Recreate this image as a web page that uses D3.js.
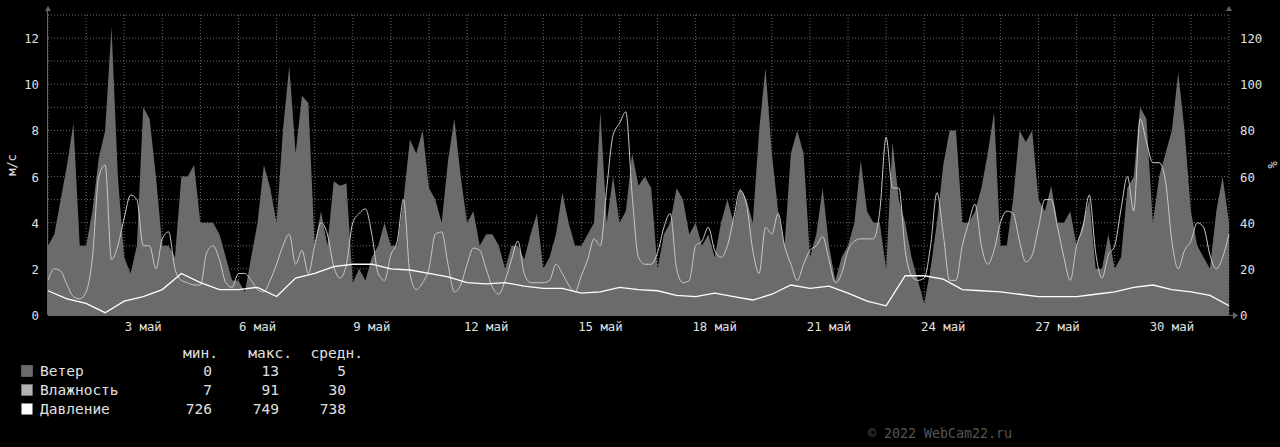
<!DOCTYPE html>
<html><head><meta charset="utf-8">
<script src="https://cdn.jsdelivr.net/npm/d3@7"></script>
<style>body{margin:0;background:#000;}svg{display:block;}</style>
</head><body>
<svg id="c" width="1280" height="447"></svg>
<script>
// 4-hour samples, 1 May 00:00 .. 1 June 00:00
const wind = [
3,3.5,5,6.5,8.3,3, 3,4.5,6.8,8,12.5,6, 2.5,1.8,3,9,8.5,6, 3,3,2.5,6,6,6.5,
4,4,4,3.5,2.5,1.5, 1.5,1,2.5,4,6.5,5.5, 4,8,10.8,7,9.5,9.2, 3,4.5,3,5.8,5.6,5.7,
1.4,2,1.5,2.5,3,4, 3,3,5,7.6,7,8, 5.5,5,4,6.7,8.5,6, 4,4.5,3,3.5,3.5,3,
2,3,3,2.4,3.5,4.4, 2,2.5,3.5,5.3,4,3, 3,3.5,4,8.8,4,6, 4,4.5,7,5.6,6,5.5,
2,3.5,4,5.5,5,3.5, 4,3,3.5,2.5,4,5, 4,5.5,5,4,8,10.7, 7,4.5,3,7,8,7,
2.5,3.5,5.5,3,1.5,2.5, 3,4,6.7,4.5,4,4, 2,7.5,5,4,2.5,1.5, 0.5,2,4,6.5,8,8,
4,4,4.5,5.5,7,8.8, 3,3,5,8,7.5,8, 5,4.5,5.6,4,4,4.5, 3,4,5,2,2,3.5,
2,2.5,5.5,6,9,8.5, 4,6,7,8,10.5,8, 4.5,3,2.5,2,4.5,6, 4];
const humidity = [
15,20,19,13,8,7, 10,25,60,65,24,30, 42,52,50,30,30,20, 33,36,20,15,14,13,
13,27,30,24,14,12, 18,18,15,11,10,15, 22,30,35,22,28,18, 30,40,35,21,16,22,
40,44,46,35,18,15, 26,32,50,18,11,14, 20,35,36,22,10,13, 22,29,28,20,12,9,
15,24,32,18,14,14, 14,15,22,18,13,10, 17,24,33,30,55,78, 83,88,52,25,22,22,
27,38,44,20,14,15, 30,32,38,28,25,30, 42,54,48,28,18,38, 35,44,30,22,15,22,
28,30,34,24,14,18, 28,32,33,33,33,45, 77,55,55,28,17,15, 16,30,53,35,15,15,
30,40,48,30,22,28, 40,45,44,32,23,26, 38,50,50,38,25,15, 30,38,52,27,16,26,
30,46,60,45,85,75, 66,66,58,32,20,28, 32,40,38,26,20,25, 35];
// 12-hour samples
const pressure = [
735.5,732, 730,726, 731,733, 736,743, 739,736, 736,737, 733,741, 743,746,
747,747, 745,744.5, 743,741.5, 739,738.5, 739,737.5, 736.5,736.5, 734.5,735, 737,736,
735.5,733.5, 733,734.5, 733,731.5, 734,738, 736.5,737.5, 734.5,731, 729,742, 742,740.5,
736,735.5, 735,734, 733,733, 733,734, 735,737, 738,736, 735,733.5, 729];
const yTicks = [0,2,4,6,8,10,12];
const dayLabels = [3,6,9,12,15,18,21,24,27,30];
const legendNames = ["Ветер","Влажность","Давление"];
const legendMin = [0,7,726], legendMax = [13,91,749], legendAvg = [5,30,738];
const legendColors = ["#6b6b6b","#b4b4b4","#ffffff"];

const svg = d3.select("#c");
const L=48, R=1229, T=15, B=315;
const t0 = new Date(2022,4,1), t1 = new Date(2022,5,1);
const x = d3.scaleTime().domain([t0,t1]).range([L,R]);
const y = d3.scaleLinear().domain([0,13]).range([B,T]);
const yH = d3.scaleLinear().domain([0,130]).range([B,T]);
const pToY = d3.scaleLinear().domain([725,755]).range([y(0),y(3)]);
const tAt = (i,h)=>new Date(t0.getTime()+i*h*3600e3);
const font = "DejaVu Sans Mono, monospace";

const g = svg.append("g");
d3.range(0,32).forEach(d=>{g.append("line").attr("x1",x(d3.timeDay.offset(t0,d))).attr("x2",x(d3.timeDay.offset(t0,d)))
 .attr("y1",T).attr("y2",B).attr("stroke","#6a6a6a").attr("stroke-dasharray","1,2").attr("stroke-width",1);});
d3.range(0,14).forEach(v=>{g.append("line").attr("x1",L).attr("x2",R).attr("y1",y(v)).attr("y2",y(v))
 .attr("stroke","#6a6a6a").attr("stroke-dasharray","1,2");});

svg.append("path").datum(wind).attr("fill","#6b6b6b")
 .attr("d",d3.area().x((d,i)=>x(tAt(i,4))).y0(B).y1(d=>y(d)));
svg.append("path").datum(humidity).attr("fill","none").attr("stroke","#c8c8c8").attr("stroke-width",1)
 .attr("d",d3.line().x((d,i)=>x(tAt(i,4))).y(d=>yH(d)).curve(d3.curveMonotoneX));
svg.append("path").datum(pressure).attr("fill","none").attr("stroke","#fff").attr("stroke-width",1.3)
 .attr("d",d3.line().x((d,i)=>x(tAt(i,12))).y(d=>pToY(d)));

svg.append("line").attr("x1",L).attr("x2",R+6).attr("y1",B+0.5).attr("y2",B+0.5).attr("stroke","#666");
svg.append("line").attr("x1",L-0.5).attr("x2",L-0.5).attr("y1",T-5).attr("y2",B).attr("stroke","#666");
svg.append("path").attr("d",`M${L-3},${T-4}L${L},${T-9}L${L+3},${T-4}Z`).attr("fill","#666");
svg.append("path").attr("d",`M${R+4},${B-3}L${R+9},${B+0.5}L${R+4},${B+4}Z`).attr("fill","#666");
svg.append("path").attr("d",`M${R-3},${T-4}L${R},${T-9}L${R+3},${T-4}Z`).attr("fill","#666");

const txt = (sel,fs)=>sel.attr("font-family",font).attr("font-size",fs||12.3).attr("fill","#e0e0e0");
yTicks.forEach(v=>{
 txt(svg.append("text")).attr("x",39).attr("y",y(v)+5).attr("text-anchor","end").text(v);
 txt(svg.append("text")).attr("x",1240).attr("y",y(v)+5).attr("text-anchor","start").text(v*10);
});
txt(svg.append("text"),12).attr("transform","translate(16,165) rotate(-90)").attr("text-anchor","middle").text("м/с");
txt(svg.append("text"),12).attr("transform","translate(1277,165) rotate(-90)").attr("text-anchor","middle").text("%");
dayLabels.forEach(d=>{
 txt(svg.append("text")).attr("x",x(new Date(2022,4,d,12))).attr("y",331).attr("text-anchor","middle").text(d+" май");
});

[["мин.",218],["макс.",292],["средн.",363]].forEach(([h,xx])=>txt(svg.append("text"),14.5).attr("x",xx).attr("y",358).attr("text-anchor","end").text(h));
legendNames.forEach((n,i)=>{
 const yy=371+i*19;
 svg.append("rect").attr("x",21.5).attr("y",yy-5.5).attr("width",11).attr("height",11).attr("fill",legendColors[i]).attr("stroke","#888").attr("stroke-width",0.5);
 txt(svg.append("text"),14.5).attr("x",40).attr("y",yy+5).text(n);
 txt(svg.append("text"),14.5).attr("x",212).attr("y",yy+5).attr("text-anchor","end").text(legendMin[i]);
 txt(svg.append("text"),14.5).attr("x",279).attr("y",yy+5).attr("text-anchor","end").text(legendMax[i]);
 txt(svg.append("text"),14.5).attr("x",346).attr("y",yy+5).attr("text-anchor","end").text(legendAvg[i]);
});
svg.append("text").attr("x",868).attr("y",438).attr("font-family",font).attr("font-size",13.3).attr("fill","#555").text("© 2022 WebCam22.ru");
</script>
</body></html>
